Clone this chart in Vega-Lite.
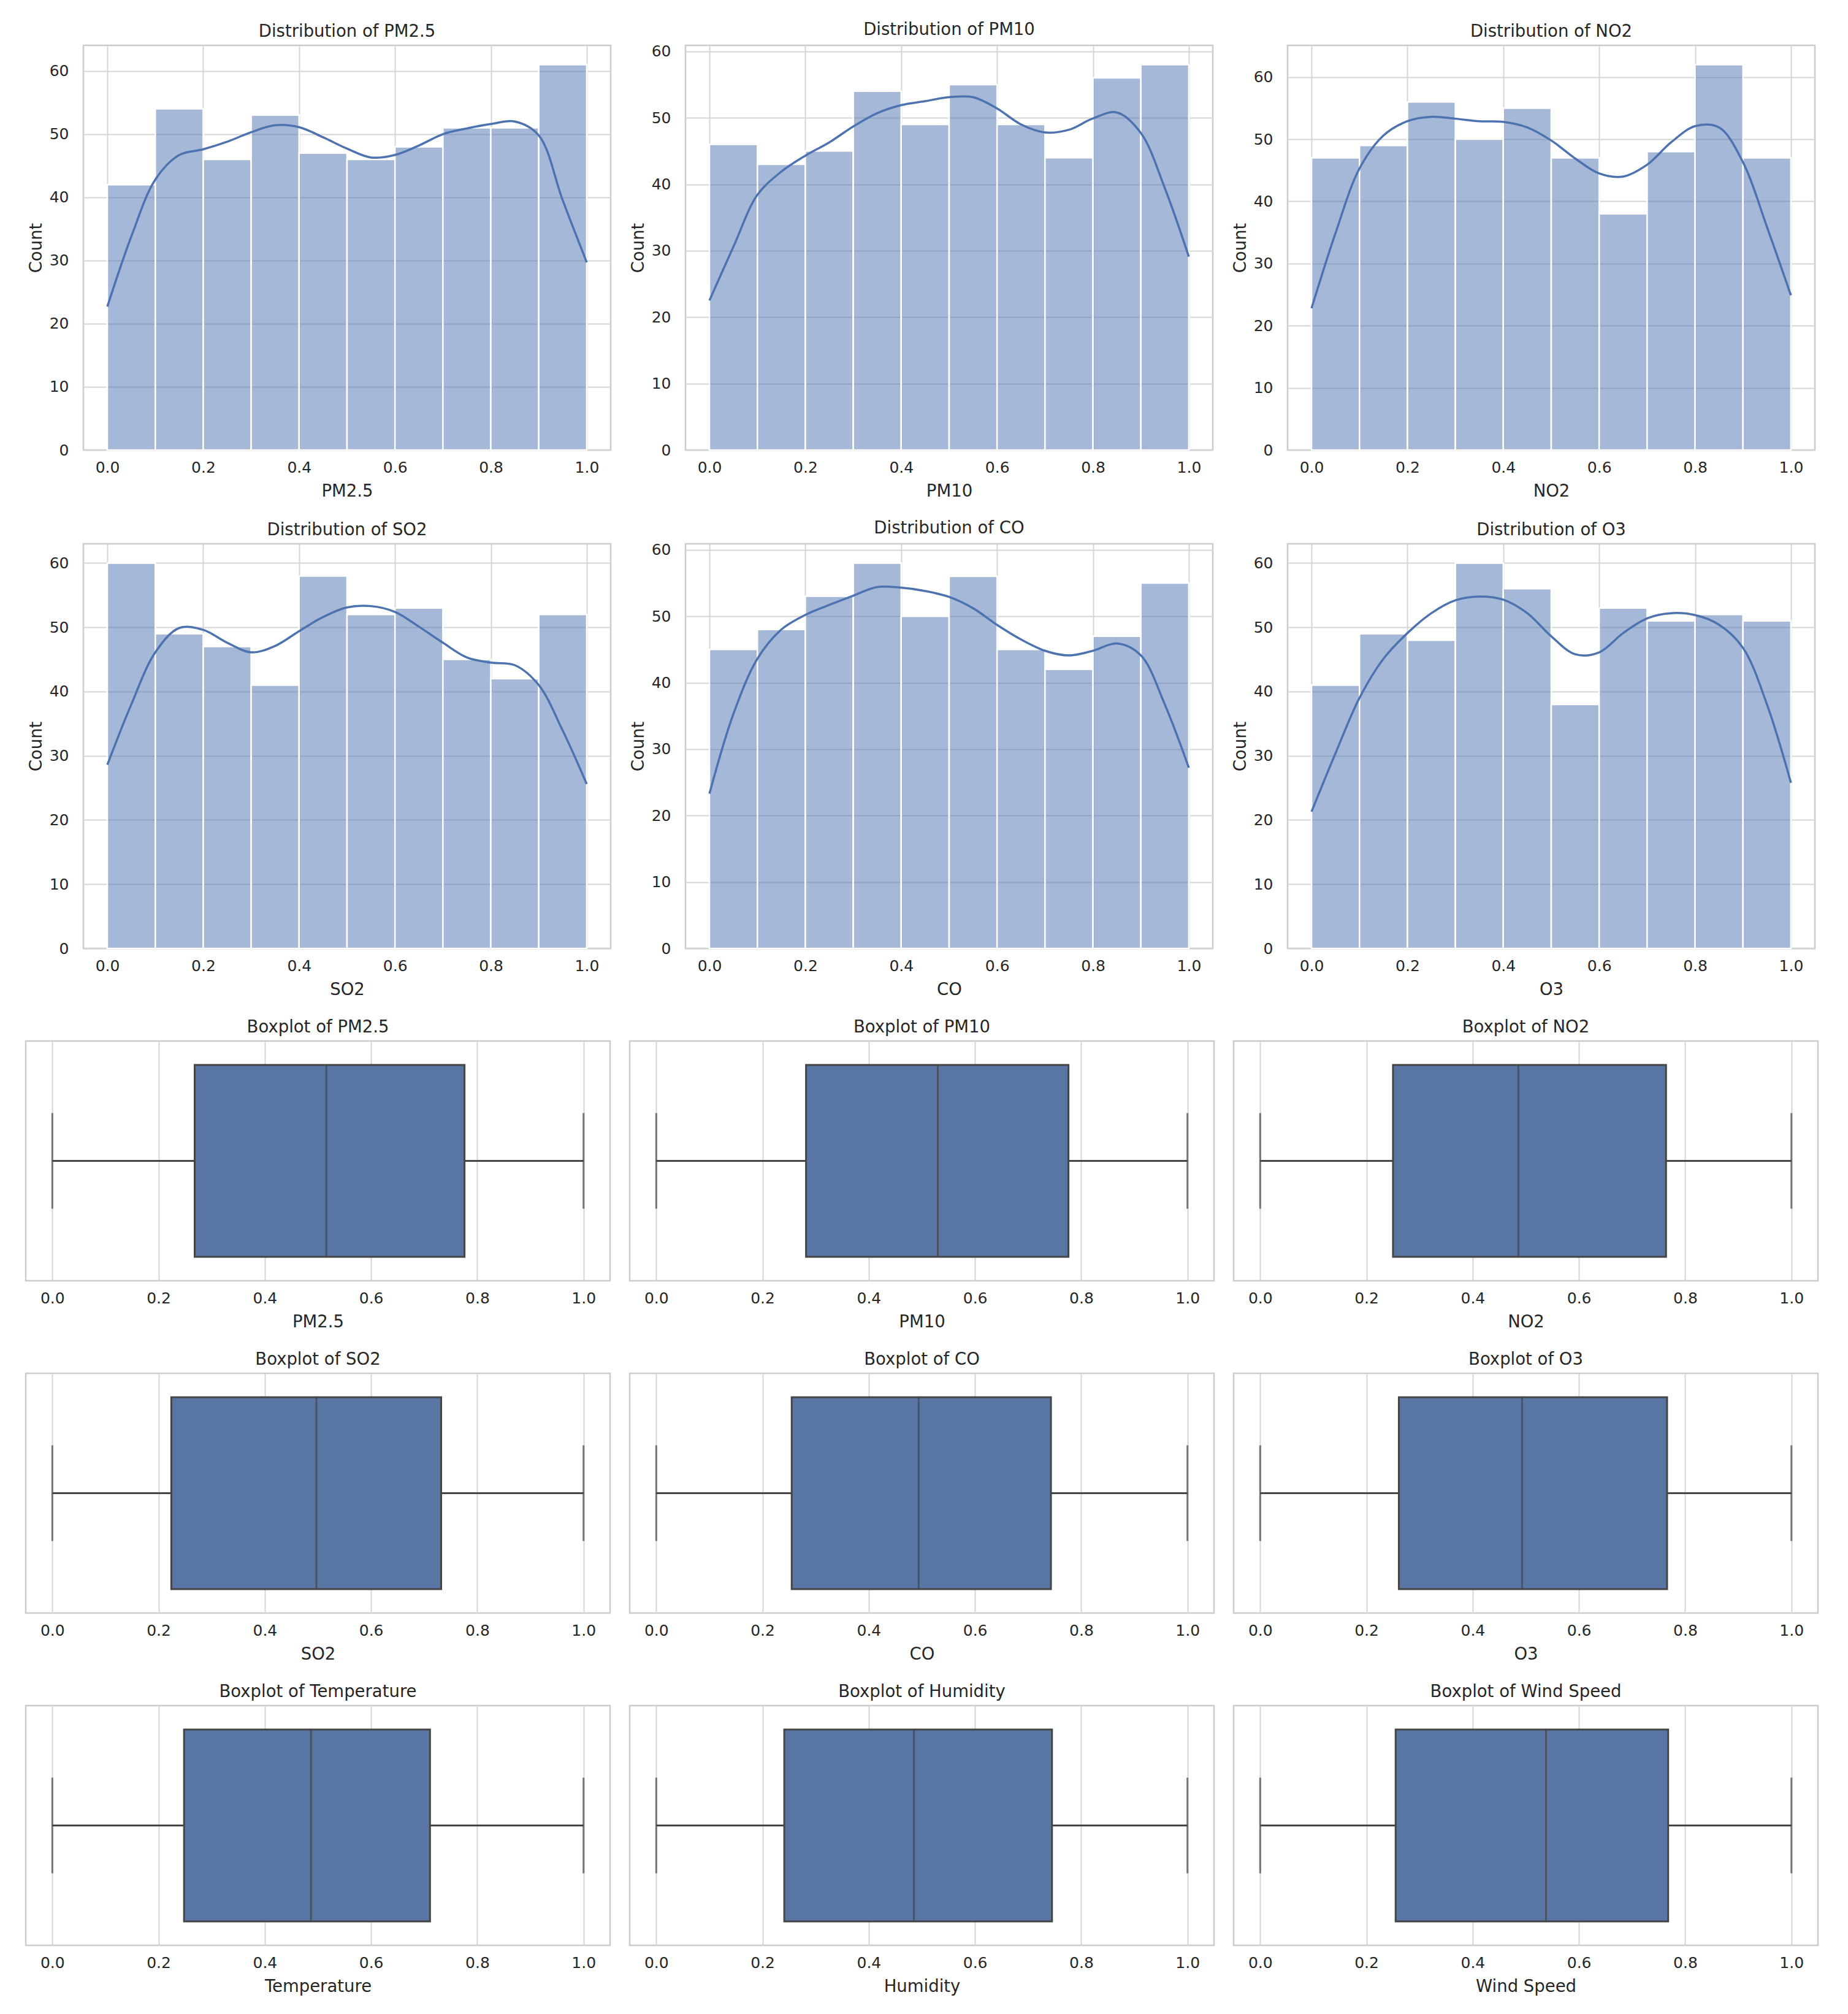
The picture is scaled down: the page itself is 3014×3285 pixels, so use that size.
{
"$schema": "https://vega.github.io/schema/vega-lite/v6.json",
"background": "white",
"padding": {"left": 40, "top": 34, "right": 10, "bottom": 10},
"bounds": "full",
"spacing": 31,
"config": {
  "font": "DejaVu Sans",
  "view": {"stroke": "#CCCCCC", "strokeWidth": 2.5},
  "axis": {"domain": false, "ticks": false, "tickSize": 0, "grid": true, "gridColor": "#D5D5D5", "gridWidth": 2, "labelFont": "DejaVu Sans", "labelFontSize": 25, "labelColor": "#262626", "labelOverlap": false, "labelFlush": false, "titleFont": "DejaVu Sans", "titleFontSize": 27.5, "titleFontWeight": "normal", "titleColor": "#262626"},
  "axisX": {"labelPadding": 16, "titlePadding": 12},
  "axisY": {"labelPadding": 24, "titlePadding": 8, "minExtent": 55, "maxExtent": 55},
  "title": {"font": "DejaVu Sans", "fontSize": 27.5, "fontWeight": "normal", "color": "#262626", "frame": "group", "anchor": "middle", "offset": 9, "baseline": "alphabetic"},
  "concat": {"spacing": 28}
},
"datasets": {
  "hist": [
    {"var":"PM2.5","bin_start":0.0,"bin_end":0.1,"count":42},{"var":"PM2.5","bin_start":0.1,"bin_end":0.2,"count":54},{"var":"PM2.5","bin_start":0.2,"bin_end":0.3,"count":46},{"var":"PM2.5","bin_start":0.3,"bin_end":0.4,"count":53},{"var":"PM2.5","bin_start":0.4,"bin_end":0.5,"count":47},{"var":"PM2.5","bin_start":0.5,"bin_end":0.6,"count":46},{"var":"PM2.5","bin_start":0.6,"bin_end":0.7,"count":48},{"var":"PM2.5","bin_start":0.7,"bin_end":0.8,"count":51},{"var":"PM2.5","bin_start":0.8,"bin_end":0.9,"count":51},{"var":"PM2.5","bin_start":0.9,"bin_end":1.0,"count":61},
    {"var":"PM10","bin_start":0.0,"bin_end":0.1,"count":46},{"var":"PM10","bin_start":0.1,"bin_end":0.2,"count":43},{"var":"PM10","bin_start":0.2,"bin_end":0.3,"count":45},{"var":"PM10","bin_start":0.3,"bin_end":0.4,"count":54},{"var":"PM10","bin_start":0.4,"bin_end":0.5,"count":49},{"var":"PM10","bin_start":0.5,"bin_end":0.6,"count":55},{"var":"PM10","bin_start":0.6,"bin_end":0.7,"count":49},{"var":"PM10","bin_start":0.7,"bin_end":0.8,"count":44},{"var":"PM10","bin_start":0.8,"bin_end":0.9,"count":56},{"var":"PM10","bin_start":0.9,"bin_end":1.0,"count":58},
    {"var":"NO2","bin_start":0.0,"bin_end":0.1,"count":47},{"var":"NO2","bin_start":0.1,"bin_end":0.2,"count":49},{"var":"NO2","bin_start":0.2,"bin_end":0.3,"count":56},{"var":"NO2","bin_start":0.3,"bin_end":0.4,"count":50},{"var":"NO2","bin_start":0.4,"bin_end":0.5,"count":55},{"var":"NO2","bin_start":0.5,"bin_end":0.6,"count":47},{"var":"NO2","bin_start":0.6,"bin_end":0.7,"count":38},{"var":"NO2","bin_start":0.7,"bin_end":0.8,"count":48},{"var":"NO2","bin_start":0.8,"bin_end":0.9,"count":62},{"var":"NO2","bin_start":0.9,"bin_end":1.0,"count":47},
    {"var":"SO2","bin_start":0.0,"bin_end":0.1,"count":60},{"var":"SO2","bin_start":0.1,"bin_end":0.2,"count":49},{"var":"SO2","bin_start":0.2,"bin_end":0.3,"count":47},{"var":"SO2","bin_start":0.3,"bin_end":0.4,"count":41},{"var":"SO2","bin_start":0.4,"bin_end":0.5,"count":58},{"var":"SO2","bin_start":0.5,"bin_end":0.6,"count":52},{"var":"SO2","bin_start":0.6,"bin_end":0.7,"count":53},{"var":"SO2","bin_start":0.7,"bin_end":0.8,"count":45},{"var":"SO2","bin_start":0.8,"bin_end":0.9,"count":42},{"var":"SO2","bin_start":0.9,"bin_end":1.0,"count":52},
    {"var":"CO","bin_start":0.0,"bin_end":0.1,"count":45},{"var":"CO","bin_start":0.1,"bin_end":0.2,"count":48},{"var":"CO","bin_start":0.2,"bin_end":0.3,"count":53},{"var":"CO","bin_start":0.3,"bin_end":0.4,"count":58},{"var":"CO","bin_start":0.4,"bin_end":0.5,"count":50},{"var":"CO","bin_start":0.5,"bin_end":0.6,"count":56},{"var":"CO","bin_start":0.6,"bin_end":0.7,"count":45},{"var":"CO","bin_start":0.7,"bin_end":0.8,"count":42},{"var":"CO","bin_start":0.8,"bin_end":0.9,"count":47},{"var":"CO","bin_start":0.9,"bin_end":1.0,"count":55},
    {"var":"O3","bin_start":0.0,"bin_end":0.1,"count":41},{"var":"O3","bin_start":0.1,"bin_end":0.2,"count":49},{"var":"O3","bin_start":0.2,"bin_end":0.3,"count":48},{"var":"O3","bin_start":0.3,"bin_end":0.4,"count":60},{"var":"O3","bin_start":0.4,"bin_end":0.5,"count":56},{"var":"O3","bin_start":0.5,"bin_end":0.6,"count":38},{"var":"O3","bin_start":0.6,"bin_end":0.7,"count":53},{"var":"O3","bin_start":0.7,"bin_end":0.8,"count":51},{"var":"O3","bin_start":0.8,"bin_end":0.9,"count":52},{"var":"O3","bin_start":0.9,"bin_end":1.0,"count":51}
  ],
  "kde": [
    {"var":"PM2.5","x":0.0,"d":22.7},{"var":"PM2.5","x":0.05,"d":33.8},{"var":"PM2.5","x":0.1,"d":42.8},{"var":"PM2.5","x":0.15,"d":46.7},{"var":"PM2.5","x":0.2,"d":47.6},{"var":"PM2.5","x":0.25,"d":48.8},{"var":"PM2.5","x":0.3,"d":50.3},{"var":"PM2.5","x":0.35,"d":51.4},{"var":"PM2.5","x":0.4,"d":51.1},{"var":"PM2.5","x":0.45,"d":49.5},{"var":"PM2.5","x":0.5,"d":47.7},{"var":"PM2.5","x":0.55,"d":46.3},{"var":"PM2.5","x":0.6,"d":46.7},{"var":"PM2.5","x":0.65,"d":48.2},{"var":"PM2.5","x":0.7,"d":50.0},{"var":"PM2.5","x":0.75,"d":50.9},{"var":"PM2.5","x":0.8,"d":51.6},{"var":"PM2.5","x":0.85,"d":52.0},{"var":"PM2.5","x":0.9,"d":49.8},{"var":"PM2.5","x":0.95,"d":39.5},{"var":"PM2.5","x":1.0,"d":29.7},
    {"var":"PM10","x":0.0,"d":22.5},{"var":"PM10","x":0.05,"d":30.6},{"var":"PM10","x":0.1,"d":38.4},{"var":"PM10","x":0.15,"d":41.9},{"var":"PM10","x":0.2,"d":44.3},{"var":"PM10","x":0.25,"d":46.3},{"var":"PM10","x":0.3,"d":48.7},{"var":"PM10","x":0.35,"d":50.7},{"var":"PM10","x":0.4,"d":51.9},{"var":"PM10","x":0.45,"d":52.5},{"var":"PM10","x":0.5,"d":53.1},{"var":"PM10","x":0.55,"d":53.1},{"var":"PM10","x":0.6,"d":51.4},{"var":"PM10","x":0.65,"d":49.0},{"var":"PM10","x":0.7,"d":47.8},{"var":"PM10","x":0.75,"d":48.2},{"var":"PM10","x":0.8,"d":49.9},{"var":"PM10","x":0.85,"d":50.8},{"var":"PM10","x":0.9,"d":47.7},{"var":"PM10","x":0.95,"d":39.4},{"var":"PM10","x":1.0,"d":29.1},
    {"var":"NO2","x":0.0,"d":22.8},{"var":"NO2","x":0.05,"d":34.9},{"var":"NO2","x":0.1,"d":45.3},{"var":"NO2","x":0.15,"d":50.6},{"var":"NO2","x":0.2,"d":52.9},{"var":"NO2","x":0.25,"d":53.6},{"var":"NO2","x":0.3,"d":53.3},{"var":"NO2","x":0.35,"d":52.9},{"var":"NO2","x":0.4,"d":52.8},{"var":"NO2","x":0.45,"d":51.9},{"var":"NO2","x":0.5,"d":49.8},{"var":"NO2","x":0.55,"d":46.9},{"var":"NO2","x":0.6,"d":44.5},{"var":"NO2","x":0.65,"d":44.0},{"var":"NO2","x":0.7,"d":45.9},{"var":"NO2","x":0.75,"d":49.5},{"var":"NO2","x":0.8,"d":52.1},{"var":"NO2","x":0.85,"d":51.9},{"var":"NO2","x":0.9,"d":46.3},{"var":"NO2","x":0.95,"d":35.9},{"var":"NO2","x":1.0,"d":24.9},
    {"var":"SO2","x":0.0,"d":28.6},{"var":"SO2","x":0.05,"d":38.0},{"var":"SO2","x":0.1,"d":46.1},{"var":"SO2","x":0.15,"d":49.9},{"var":"SO2","x":0.2,"d":49.6},{"var":"SO2","x":0.25,"d":47.6},{"var":"SO2","x":0.3,"d":46.1},{"var":"SO2","x":0.35,"d":47.1},{"var":"SO2","x":0.4,"d":49.4},{"var":"SO2","x":0.45,"d":51.6},{"var":"SO2","x":0.5,"d":53.1},{"var":"SO2","x":0.55,"d":53.3},{"var":"SO2","x":0.6,"d":52.4},{"var":"SO2","x":0.65,"d":50.1},{"var":"SO2","x":0.7,"d":47.6},{"var":"SO2","x":0.75,"d":45.3},{"var":"SO2","x":0.8,"d":44.5},{"var":"SO2","x":0.85,"d":44.1},{"var":"SO2","x":0.9,"d":41.0},{"var":"SO2","x":0.95,"d":33.9},{"var":"SO2","x":1.0,"d":25.6},
    {"var":"CO","x":0.0,"d":23.3},{"var":"CO","x":0.05,"d":35.3},{"var":"CO","x":0.1,"d":43.6},{"var":"CO","x":0.15,"d":48.0},{"var":"CO","x":0.2,"d":50.2},{"var":"CO","x":0.25,"d":51.7},{"var":"CO","x":0.3,"d":53.1},{"var":"CO","x":0.35,"d":54.4},{"var":"CO","x":0.4,"d":54.3},{"var":"CO","x":0.45,"d":53.8},{"var":"CO","x":0.5,"d":52.9},{"var":"CO","x":0.55,"d":51.2},{"var":"CO","x":0.6,"d":48.7},{"var":"CO","x":0.65,"d":46.5},{"var":"CO","x":0.7,"d":44.8},{"var":"CO","x":0.75,"d":44.1},{"var":"CO","x":0.8,"d":44.8},{"var":"CO","x":0.85,"d":45.9},{"var":"CO","x":0.9,"d":44.1},{"var":"CO","x":0.95,"d":36.7},{"var":"CO","x":1.0,"d":27.2},
    {"var":"O3","x":0.0,"d":21.3},{"var":"O3","x":0.05,"d":30.4},{"var":"O3","x":0.1,"d":39.0},{"var":"O3","x":0.15,"d":45.1},{"var":"O3","x":0.2,"d":49.1},{"var":"O3","x":0.25,"d":52.2},{"var":"O3","x":0.3,"d":54.2},{"var":"O3","x":0.35,"d":54.8},{"var":"O3","x":0.4,"d":54.3},{"var":"O3","x":0.45,"d":52.2},{"var":"O3","x":0.5,"d":48.6},{"var":"O3","x":0.55,"d":45.8},{"var":"O3","x":0.6,"d":46.1},{"var":"O3","x":0.65,"d":49.1},{"var":"O3","x":0.7,"d":51.4},{"var":"O3","x":0.75,"d":52.2},{"var":"O3","x":0.8,"d":51.9},{"var":"O3","x":0.85,"d":50.4},{"var":"O3","x":0.9,"d":46.8},{"var":"O3","x":0.95,"d":38.0},{"var":"O3","x":1.0,"d":25.8}
  ],
  "box": [
    {"var":"PM2.5","min":0,"q1":0.268,"median":0.516,"q3":0.776,"max":1},
    {"var":"PM10","min":0,"q1":0.282,"median":0.530,"q3":0.776,"max":1},
    {"var":"NO2","min":0,"q1":0.250,"median":0.486,"q3":0.764,"max":1},
    {"var":"SO2","min":0,"q1":0.224,"median":0.497,"q3":0.732,"max":1},
    {"var":"CO","min":0,"q1":0.255,"median":0.494,"q3":0.743,"max":1},
    {"var":"O3","min":0,"q1":0.261,"median":0.493,"q3":0.766,"max":1},
    {"var":"Temperature","min":0,"q1":0.248,"median":0.487,"q3":0.711,"max":1},
    {"var":"Humidity","min":0,"q1":0.241,"median":0.485,"q3":0.745,"max":1},
    {"var":"Wind Speed","min":0,"q1":0.255,"median":0.538,"q3":0.768,"max":1}
  ],
  "blank": [{"k": 1}]
},
"vconcat": [
  {"spacing": 0, "hconcat": [
    {"width": 1, "height": 1, "view": {"stroke": null}, "data": {"name": "blank"}, "mark": {"type": "text", "text": ""}, "encoding": {}},
    {"spacing": 27, "hconcat": [
    {"width": 860, "height": 660, "title": "Distribution of PM2.5", "layer": [
      {"data": {"name": "hist"}, "transform": [{"filter": "datum.var === 'PM2.5'"}], "mark": {"type": "bar", "fill": "#4C72B0", "fillOpacity": 0.5, "stroke": "#FFFFFF", "strokeWidth": 2.5},
       "encoding": {"x": {"field": "bin_start", "type": "quantitative", "title": "PM2.5", "scale": {"domain": [-0.05, 1.05], "nice": false, "zero": false}, "axis": {"values": [0, 0.2, 0.4, 0.6, 0.8, 1], "format": ".1f"}}, "x2": {"field": "bin_end"},
        "y": {"field": "count", "type": "quantitative", "title": "Count", "scale": {"domain": [0, 64.05], "nice": false}, "axis": {"values": [0, 10, 20, 30, 40, 50, 60]}}, "y2": {"datum": 0}}},
      {"data": {"name": "kde"}, "transform": [{"filter": "datum.var === 'PM2.5'"}], "mark": {"type": "line", "color": "#4C72B0", "strokeWidth": 3.5, "interpolate": "catmull-rom"},
       "encoding": {"x": {"field": "x", "type": "quantitative", "title": "PM2.5"}, "y": {"field": "d", "type": "quantitative", "title": "Count"}}}
    ]},
    {"width": 860, "height": 660, "title": "Distribution of PM10", "layer": [
      {"data": {"name": "hist"}, "transform": [{"filter": "datum.var === 'PM10'"}], "mark": {"type": "bar", "fill": "#4C72B0", "fillOpacity": 0.5, "stroke": "#FFFFFF", "strokeWidth": 2.5},
       "encoding": {"x": {"field": "bin_start", "type": "quantitative", "title": "PM10", "scale": {"domain": [-0.05, 1.05], "nice": false, "zero": false}, "axis": {"values": [0, 0.2, 0.4, 0.6, 0.8, 1], "format": ".1f"}}, "x2": {"field": "bin_end"},
        "y": {"field": "count", "type": "quantitative", "title": "Count", "scale": {"domain": [0, 60.9], "nice": false}, "axis": {"values": [0, 10, 20, 30, 40, 50, 60]}}, "y2": {"datum": 0}}},
      {"data": {"name": "kde"}, "transform": [{"filter": "datum.var === 'PM10'"}], "mark": {"type": "line", "color": "#4C72B0", "strokeWidth": 3.5, "interpolate": "catmull-rom"},
       "encoding": {"x": {"field": "x", "type": "quantitative", "title": "PM10"}, "y": {"field": "d", "type": "quantitative", "title": "Count"}}}
    ]},
    {"width": 860, "height": 660, "title": "Distribution of NO2", "layer": [
      {"data": {"name": "hist"}, "transform": [{"filter": "datum.var === 'NO2'"}], "mark": {"type": "bar", "fill": "#4C72B0", "fillOpacity": 0.5, "stroke": "#FFFFFF", "strokeWidth": 2.5},
       "encoding": {"x": {"field": "bin_start", "type": "quantitative", "title": "NO2", "scale": {"domain": [-0.05, 1.05], "nice": false, "zero": false}, "axis": {"values": [0, 0.2, 0.4, 0.6, 0.8, 1], "format": ".1f"}}, "x2": {"field": "bin_end"},
        "y": {"field": "count", "type": "quantitative", "title": "Count", "scale": {"domain": [0, 65.1], "nice": false}, "axis": {"values": [0, 10, 20, 30, 40, 50, 60]}}, "y2": {"datum": 0}}},
      {"data": {"name": "kde"}, "transform": [{"filter": "datum.var === 'NO2'"}], "mark": {"type": "line", "color": "#4C72B0", "strokeWidth": 3.5, "interpolate": "catmull-rom"},
       "encoding": {"x": {"field": "x", "type": "quantitative", "title": "NO2"}, "y": {"field": "d", "type": "quantitative", "title": "Count"}}}
    ]}
  ]}]},
  {"spacing": 0, "hconcat": [
    {"width": 1, "height": 1, "view": {"stroke": null}, "data": {"name": "blank"}, "mark": {"type": "text", "text": ""}, "encoding": {}},
    {"spacing": 27, "hconcat": [
    {"width": 860, "height": 660, "title": "Distribution of SO2", "layer": [
      {"data": {"name": "hist"}, "transform": [{"filter": "datum.var === 'SO2'"}], "mark": {"type": "bar", "fill": "#4C72B0", "fillOpacity": 0.5, "stroke": "#FFFFFF", "strokeWidth": 2.5},
       "encoding": {"x": {"field": "bin_start", "type": "quantitative", "title": "SO2", "scale": {"domain": [-0.05, 1.05], "nice": false, "zero": false}, "axis": {"values": [0, 0.2, 0.4, 0.6, 0.8, 1], "format": ".1f"}}, "x2": {"field": "bin_end"},
        "y": {"field": "count", "type": "quantitative", "title": "Count", "scale": {"domain": [0, 63], "nice": false}, "axis": {"values": [0, 10, 20, 30, 40, 50, 60]}}, "y2": {"datum": 0}}},
      {"data": {"name": "kde"}, "transform": [{"filter": "datum.var === 'SO2'"}], "mark": {"type": "line", "color": "#4C72B0", "strokeWidth": 3.5, "interpolate": "catmull-rom"},
       "encoding": {"x": {"field": "x", "type": "quantitative", "title": "SO2"}, "y": {"field": "d", "type": "quantitative", "title": "Count"}}}
    ]},
    {"width": 860, "height": 660, "title": "Distribution of CO", "layer": [
      {"data": {"name": "hist"}, "transform": [{"filter": "datum.var === 'CO'"}], "mark": {"type": "bar", "fill": "#4C72B0", "fillOpacity": 0.5, "stroke": "#FFFFFF", "strokeWidth": 2.5},
       "encoding": {"x": {"field": "bin_start", "type": "quantitative", "title": "CO", "scale": {"domain": [-0.05, 1.05], "nice": false, "zero": false}, "axis": {"values": [0, 0.2, 0.4, 0.6, 0.8, 1], "format": ".1f"}}, "x2": {"field": "bin_end"},
        "y": {"field": "count", "type": "quantitative", "title": "Count", "scale": {"domain": [0, 60.9], "nice": false}, "axis": {"values": [0, 10, 20, 30, 40, 50, 60]}}, "y2": {"datum": 0}}},
      {"data": {"name": "kde"}, "transform": [{"filter": "datum.var === 'CO'"}], "mark": {"type": "line", "color": "#4C72B0", "strokeWidth": 3.5, "interpolate": "catmull-rom"},
       "encoding": {"x": {"field": "x", "type": "quantitative", "title": "CO"}, "y": {"field": "d", "type": "quantitative", "title": "Count"}}}
    ]},
    {"width": 860, "height": 660, "title": "Distribution of O3", "layer": [
      {"data": {"name": "hist"}, "transform": [{"filter": "datum.var === 'O3'"}], "mark": {"type": "bar", "fill": "#4C72B0", "fillOpacity": 0.5, "stroke": "#FFFFFF", "strokeWidth": 2.5},
       "encoding": {"x": {"field": "bin_start", "type": "quantitative", "title": "O3", "scale": {"domain": [-0.05, 1.05], "nice": false, "zero": false}, "axis": {"values": [0, 0.2, 0.4, 0.6, 0.8, 1], "format": ".1f"}}, "x2": {"field": "bin_end"},
        "y": {"field": "count", "type": "quantitative", "title": "Count", "scale": {"domain": [0, 63], "nice": false}, "axis": {"values": [0, 10, 20, 30, 40, 50, 60]}}, "y2": {"datum": 0}}},
      {"data": {"name": "kde"}, "transform": [{"filter": "datum.var === 'O3'"}], "mark": {"type": "line", "color": "#4C72B0", "strokeWidth": 3.5, "interpolate": "catmull-rom"},
       "encoding": {"x": {"field": "x", "type": "quantitative", "title": "O3"}, "y": {"field": "d", "type": "quantitative", "title": "Count"}}}
    ]}
  ]}]},
  {"hconcat": [
    {"width": 953, "height": 391, "title": "Boxplot of PM2.5", "data": {"name": "box"}, "transform": [{"filter": "datum.var === 'PM2.5'"}],
     "encoding": {"y": {"field": "var", "type": "nominal", "axis": null, "scale": {"paddingInner": 0, "paddingOuter": 0}}},
     "layer": [
      {"mark": {"type": "rule", "color": "#454545", "strokeWidth": 3}, "encoding": {"x": {"field": "min", "type": "quantitative", "title": "PM2.5", "scale": {"domain": [-0.05, 1.05], "nice": false, "zero": false}, "axis": {"values": [0, 0.2, 0.4, 0.6, 0.8, 1], "format": ".1f"}}, "x2": {"field": "max"}}},
      {"mark": {"type": "bar", "fill": "#5975A4", "stroke": "#454545", "strokeWidth": 3, "height": {"band": 0.8}}, "encoding": {"x": {"field": "q1", "type": "quantitative", "title": "PM2.5"}, "x2": {"field": "q3"}}},
      {"mark": {"type": "tick", "color": "#454545", "thickness": 3, "size": 313, "orient": "vertical"}, "encoding": {"x": {"field": "median", "type": "quantitative", "title": "PM2.5"}}},
      {"mark": {"type": "tick", "color": "#454545", "thickness": 3, "size": 156, "orient": "vertical"}, "encoding": {"x": {"field": "min", "type": "quantitative", "title": "PM2.5"}}},
      {"mark": {"type": "tick", "color": "#454545", "thickness": 3, "size": 156, "orient": "vertical"}, "encoding": {"x": {"field": "max", "type": "quantitative", "title": "PM2.5"}}}
    ]},
    {"width": 953, "height": 391, "title": "Boxplot of PM10", "data": {"name": "box"}, "transform": [{"filter": "datum.var === 'PM10'"}],
     "encoding": {"y": {"field": "var", "type": "nominal", "axis": null, "scale": {"paddingInner": 0, "paddingOuter": 0}}},
     "layer": [
      {"mark": {"type": "rule", "color": "#454545", "strokeWidth": 3}, "encoding": {"x": {"field": "min", "type": "quantitative", "title": "PM10", "scale": {"domain": [-0.05, 1.05], "nice": false, "zero": false}, "axis": {"values": [0, 0.2, 0.4, 0.6, 0.8, 1], "format": ".1f"}}, "x2": {"field": "max"}}},
      {"mark": {"type": "bar", "fill": "#5975A4", "stroke": "#454545", "strokeWidth": 3, "height": {"band": 0.8}}, "encoding": {"x": {"field": "q1", "type": "quantitative", "title": "PM10"}, "x2": {"field": "q3"}}},
      {"mark": {"type": "tick", "color": "#454545", "thickness": 3, "size": 313, "orient": "vertical"}, "encoding": {"x": {"field": "median", "type": "quantitative", "title": "PM10"}}},
      {"mark": {"type": "tick", "color": "#454545", "thickness": 3, "size": 156, "orient": "vertical"}, "encoding": {"x": {"field": "min", "type": "quantitative", "title": "PM10"}}},
      {"mark": {"type": "tick", "color": "#454545", "thickness": 3, "size": 156, "orient": "vertical"}, "encoding": {"x": {"field": "max", "type": "quantitative", "title": "PM10"}}}
    ]},
    {"width": 953, "height": 391, "title": "Boxplot of NO2", "data": {"name": "box"}, "transform": [{"filter": "datum.var === 'NO2'"}],
     "encoding": {"y": {"field": "var", "type": "nominal", "axis": null, "scale": {"paddingInner": 0, "paddingOuter": 0}}},
     "layer": [
      {"mark": {"type": "rule", "color": "#454545", "strokeWidth": 3}, "encoding": {"x": {"field": "min", "type": "quantitative", "title": "NO2", "scale": {"domain": [-0.05, 1.05], "nice": false, "zero": false}, "axis": {"values": [0, 0.2, 0.4, 0.6, 0.8, 1], "format": ".1f"}}, "x2": {"field": "max"}}},
      {"mark": {"type": "bar", "fill": "#5975A4", "stroke": "#454545", "strokeWidth": 3, "height": {"band": 0.8}}, "encoding": {"x": {"field": "q1", "type": "quantitative", "title": "NO2"}, "x2": {"field": "q3"}}},
      {"mark": {"type": "tick", "color": "#454545", "thickness": 3, "size": 313, "orient": "vertical"}, "encoding": {"x": {"field": "median", "type": "quantitative", "title": "NO2"}}},
      {"mark": {"type": "tick", "color": "#454545", "thickness": 3, "size": 156, "orient": "vertical"}, "encoding": {"x": {"field": "min", "type": "quantitative", "title": "NO2"}}},
      {"mark": {"type": "tick", "color": "#454545", "thickness": 3, "size": 156, "orient": "vertical"}, "encoding": {"x": {"field": "max", "type": "quantitative", "title": "NO2"}}}
    ]}
  ]},
  {"hconcat": [
    {"width": 953, "height": 391, "title": "Boxplot of SO2", "data": {"name": "box"}, "transform": [{"filter": "datum.var === 'SO2'"}],
     "encoding": {"y": {"field": "var", "type": "nominal", "axis": null, "scale": {"paddingInner": 0, "paddingOuter": 0}}},
     "layer": [
      {"mark": {"type": "rule", "color": "#454545", "strokeWidth": 3}, "encoding": {"x": {"field": "min", "type": "quantitative", "title": "SO2", "scale": {"domain": [-0.05, 1.05], "nice": false, "zero": false}, "axis": {"values": [0, 0.2, 0.4, 0.6, 0.8, 1], "format": ".1f"}}, "x2": {"field": "max"}}},
      {"mark": {"type": "bar", "fill": "#5975A4", "stroke": "#454545", "strokeWidth": 3, "height": {"band": 0.8}}, "encoding": {"x": {"field": "q1", "type": "quantitative", "title": "SO2"}, "x2": {"field": "q3"}}},
      {"mark": {"type": "tick", "color": "#454545", "thickness": 3, "size": 313, "orient": "vertical"}, "encoding": {"x": {"field": "median", "type": "quantitative", "title": "SO2"}}},
      {"mark": {"type": "tick", "color": "#454545", "thickness": 3, "size": 156, "orient": "vertical"}, "encoding": {"x": {"field": "min", "type": "quantitative", "title": "SO2"}}},
      {"mark": {"type": "tick", "color": "#454545", "thickness": 3, "size": 156, "orient": "vertical"}, "encoding": {"x": {"field": "max", "type": "quantitative", "title": "SO2"}}}
    ]},
    {"width": 953, "height": 391, "title": "Boxplot of CO", "data": {"name": "box"}, "transform": [{"filter": "datum.var === 'CO'"}],
     "encoding": {"y": {"field": "var", "type": "nominal", "axis": null, "scale": {"paddingInner": 0, "paddingOuter": 0}}},
     "layer": [
      {"mark": {"type": "rule", "color": "#454545", "strokeWidth": 3}, "encoding": {"x": {"field": "min", "type": "quantitative", "title": "CO", "scale": {"domain": [-0.05, 1.05], "nice": false, "zero": false}, "axis": {"values": [0, 0.2, 0.4, 0.6, 0.8, 1], "format": ".1f"}}, "x2": {"field": "max"}}},
      {"mark": {"type": "bar", "fill": "#5975A4", "stroke": "#454545", "strokeWidth": 3, "height": {"band": 0.8}}, "encoding": {"x": {"field": "q1", "type": "quantitative", "title": "CO"}, "x2": {"field": "q3"}}},
      {"mark": {"type": "tick", "color": "#454545", "thickness": 3, "size": 313, "orient": "vertical"}, "encoding": {"x": {"field": "median", "type": "quantitative", "title": "CO"}}},
      {"mark": {"type": "tick", "color": "#454545", "thickness": 3, "size": 156, "orient": "vertical"}, "encoding": {"x": {"field": "min", "type": "quantitative", "title": "CO"}}},
      {"mark": {"type": "tick", "color": "#454545", "thickness": 3, "size": 156, "orient": "vertical"}, "encoding": {"x": {"field": "max", "type": "quantitative", "title": "CO"}}}
    ]},
    {"width": 953, "height": 391, "title": "Boxplot of O3", "data": {"name": "box"}, "transform": [{"filter": "datum.var === 'O3'"}],
     "encoding": {"y": {"field": "var", "type": "nominal", "axis": null, "scale": {"paddingInner": 0, "paddingOuter": 0}}},
     "layer": [
      {"mark": {"type": "rule", "color": "#454545", "strokeWidth": 3}, "encoding": {"x": {"field": "min", "type": "quantitative", "title": "O3", "scale": {"domain": [-0.05, 1.05], "nice": false, "zero": false}, "axis": {"values": [0, 0.2, 0.4, 0.6, 0.8, 1], "format": ".1f"}}, "x2": {"field": "max"}}},
      {"mark": {"type": "bar", "fill": "#5975A4", "stroke": "#454545", "strokeWidth": 3, "height": {"band": 0.8}}, "encoding": {"x": {"field": "q1", "type": "quantitative", "title": "O3"}, "x2": {"field": "q3"}}},
      {"mark": {"type": "tick", "color": "#454545", "thickness": 3, "size": 313, "orient": "vertical"}, "encoding": {"x": {"field": "median", "type": "quantitative", "title": "O3"}}},
      {"mark": {"type": "tick", "color": "#454545", "thickness": 3, "size": 156, "orient": "vertical"}, "encoding": {"x": {"field": "min", "type": "quantitative", "title": "O3"}}},
      {"mark": {"type": "tick", "color": "#454545", "thickness": 3, "size": 156, "orient": "vertical"}, "encoding": {"x": {"field": "max", "type": "quantitative", "title": "O3"}}}
    ]}
  ]},
  {"hconcat": [
    {"width": 953, "height": 391, "title": "Boxplot of Temperature", "data": {"name": "box"}, "transform": [{"filter": "datum.var === 'Temperature'"}],
     "encoding": {"y": {"field": "var", "type": "nominal", "axis": null, "scale": {"paddingInner": 0, "paddingOuter": 0}}},
     "layer": [
      {"mark": {"type": "rule", "color": "#454545", "strokeWidth": 3}, "encoding": {"x": {"field": "min", "type": "quantitative", "title": "Temperature", "scale": {"domain": [-0.05, 1.05], "nice": false, "zero": false}, "axis": {"values": [0, 0.2, 0.4, 0.6, 0.8, 1], "format": ".1f"}}, "x2": {"field": "max"}}},
      {"mark": {"type": "bar", "fill": "#5975A4", "stroke": "#454545", "strokeWidth": 3, "height": {"band": 0.8}}, "encoding": {"x": {"field": "q1", "type": "quantitative", "title": "Temperature"}, "x2": {"field": "q3"}}},
      {"mark": {"type": "tick", "color": "#454545", "thickness": 3, "size": 313, "orient": "vertical"}, "encoding": {"x": {"field": "median", "type": "quantitative", "title": "Temperature"}}},
      {"mark": {"type": "tick", "color": "#454545", "thickness": 3, "size": 156, "orient": "vertical"}, "encoding": {"x": {"field": "min", "type": "quantitative", "title": "Temperature"}}},
      {"mark": {"type": "tick", "color": "#454545", "thickness": 3, "size": 156, "orient": "vertical"}, "encoding": {"x": {"field": "max", "type": "quantitative", "title": "Temperature"}}}
    ]},
    {"width": 953, "height": 391, "title": "Boxplot of Humidity", "data": {"name": "box"}, "transform": [{"filter": "datum.var === 'Humidity'"}],
     "encoding": {"y": {"field": "var", "type": "nominal", "axis": null, "scale": {"paddingInner": 0, "paddingOuter": 0}}},
     "layer": [
      {"mark": {"type": "rule", "color": "#454545", "strokeWidth": 3}, "encoding": {"x": {"field": "min", "type": "quantitative", "title": "Humidity", "scale": {"domain": [-0.05, 1.05], "nice": false, "zero": false}, "axis": {"values": [0, 0.2, 0.4, 0.6, 0.8, 1], "format": ".1f"}}, "x2": {"field": "max"}}},
      {"mark": {"type": "bar", "fill": "#5975A4", "stroke": "#454545", "strokeWidth": 3, "height": {"band": 0.8}}, "encoding": {"x": {"field": "q1", "type": "quantitative", "title": "Humidity"}, "x2": {"field": "q3"}}},
      {"mark": {"type": "tick", "color": "#454545", "thickness": 3, "size": 313, "orient": "vertical"}, "encoding": {"x": {"field": "median", "type": "quantitative", "title": "Humidity"}}},
      {"mark": {"type": "tick", "color": "#454545", "thickness": 3, "size": 156, "orient": "vertical"}, "encoding": {"x": {"field": "min", "type": "quantitative", "title": "Humidity"}}},
      {"mark": {"type": "tick", "color": "#454545", "thickness": 3, "size": 156, "orient": "vertical"}, "encoding": {"x": {"field": "max", "type": "quantitative", "title": "Humidity"}}}
    ]},
    {"width": 953, "height": 391, "title": "Boxplot of Wind Speed", "data": {"name": "box"}, "transform": [{"filter": "datum.var === 'Wind Speed'"}],
     "encoding": {"y": {"field": "var", "type": "nominal", "axis": null, "scale": {"paddingInner": 0, "paddingOuter": 0}}},
     "layer": [
      {"mark": {"type": "rule", "color": "#454545", "strokeWidth": 3}, "encoding": {"x": {"field": "min", "type": "quantitative", "title": "Wind Speed", "scale": {"domain": [-0.05, 1.05], "nice": false, "zero": false}, "axis": {"values": [0, 0.2, 0.4, 0.6, 0.8, 1], "format": ".1f"}}, "x2": {"field": "max"}}},
      {"mark": {"type": "bar", "fill": "#5975A4", "stroke": "#454545", "strokeWidth": 3, "height": {"band": 0.8}}, "encoding": {"x": {"field": "q1", "type": "quantitative", "title": "Wind Speed"}, "x2": {"field": "q3"}}},
      {"mark": {"type": "tick", "color": "#454545", "thickness": 3, "size": 313, "orient": "vertical"}, "encoding": {"x": {"field": "median", "type": "quantitative", "title": "Wind Speed"}}},
      {"mark": {"type": "tick", "color": "#454545", "thickness": 3, "size": 156, "orient": "vertical"}, "encoding": {"x": {"field": "min", "type": "quantitative", "title": "Wind Speed"}}},
      {"mark": {"type": "tick", "color": "#454545", "thickness": 3, "size": 156, "orient": "vertical"}, "encoding": {"x": {"field": "max", "type": "quantitative", "title": "Wind Speed"}}}
    ]}
  ]}
]
}
